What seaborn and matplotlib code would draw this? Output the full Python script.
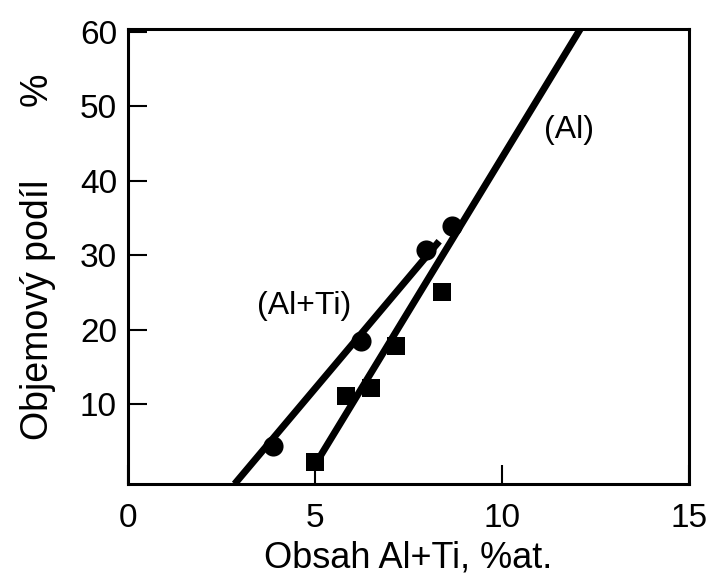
import matplotlib
matplotlib.use("Agg")
import matplotlib.pyplot as plt
import seaborn as sns

# Measured points: volume fraction vs. Al+Ti content
al_ti_x = [3.87, 6.24, 7.97, 8.67]
al_ti_y = [4.4, 18.5, 30.7, 33.9]
al_x = [4.99, 5.84, 6.5, 7.17, 8.4]
al_y = [2.3, 11.1, 12.2, 17.8, 25.1]

# Fitted trend lines (end points)
fit_al_ti_x = [2.85, 8.32]
fit_al_ti_y = [-0.7, 31.9]
fit_al_x = [5.04, 12.13]
fit_al_y = [2.2, 60.7]

x_ticks = [0, 5, 10, 15]
y_ticks = [10, 20, 30, 40, 50, 60]

sns.set_theme(style="white")
plt.rcParams["font.family"] = ["Liberation Sans", "DejaVu Sans"]

fig = plt.figure(figsize=(7.12, 5.76), dpi=100)
ax = fig.add_axes([128 / 712, 1 - 484 / 576, (689 - 128) / 712, (484 - 29) / 576])

sns.lineplot(x=fit_al_ti_x, y=fit_al_ti_y, ax=ax, color="black", linewidth=5,
             solid_capstyle="butt")
sns.lineplot(x=fit_al_x, y=fit_al_y, ax=ax, color="black", linewidth=5,
             solid_capstyle="butt")
sns.scatterplot(x=al_ti_x, y=al_ti_y, ax=ax, marker="o", s=210, color="black",
                edgecolor="black", linewidth=0, zorder=3)
sns.scatterplot(x=al_x, y=al_y, ax=ax, marker="s", s=150, color="black",
                edgecolor="black", linewidth=0, zorder=3)

ax.text(11.8, 46.9, "(Al)", fontsize=23, ha="center", va="center", color="black")
ax.text(4.72, 23.2, "(Al+Ti)", fontsize=23, ha="center", va="center", color="black")

ax.set_xlim(0, 15)
ax.set_ylim(-0.7, 60.4)
ax.set_xticks(x_ticks)
ax.set_xticklabels([str(v) for v in x_ticks])
ax.set_yticks(y_ticks)
ax.set_yticklabels([str(v) for v in y_ticks])
ax.tick_params(axis="both", which="major", bottom=True, left=True, top=False,
               right=False, direction="in", length=14, width=1.5, color="black",
               labelsize=24, labelcolor="black")
ax.tick_params(axis="x", pad=14)
ax.tick_params(axis="y", pad=8)

for spine in ax.spines.values():
    spine.set_color("black")
    spine.set_linewidth(2.2)

ax.set_xlabel("Obsah Al+Ti, %at.", fontsize=26, labelpad=4, color="black")
ax.set_ylabel("Objemový podíl       %", fontsize=27, labelpad=17, color="black")

fig.savefig("out.png", dpi=100)
